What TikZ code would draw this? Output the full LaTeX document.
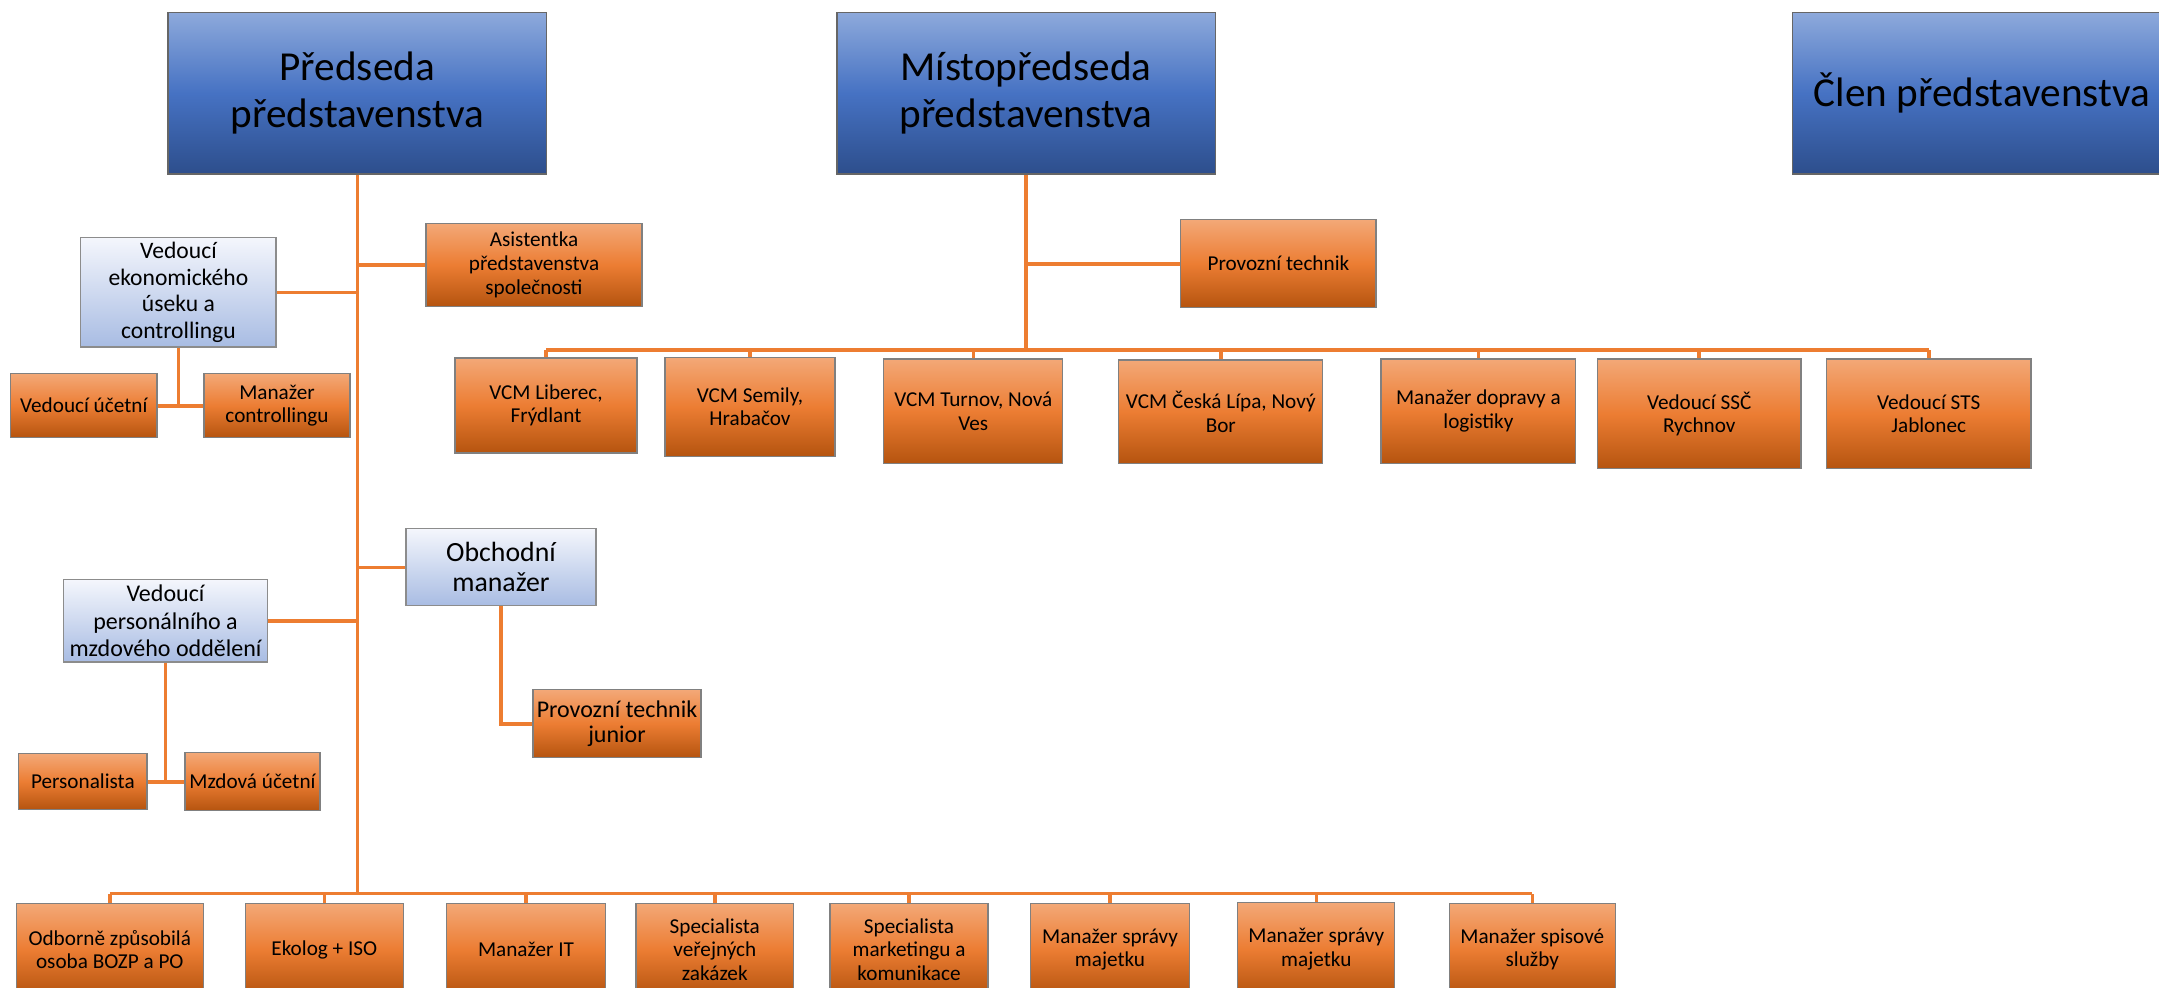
\documentclass[tikz,border=0pt]{standalone}
\usepackage{fontspec}
\setmainfont{Carlito}
\definecolor{orTop}{HTML}{F3A877}
\definecolor{orMid}{HTML}{EC7D33}
\definecolor{orBot}{HTML}{B5540F}
\definecolor{dbTop}{HTML}{8DA9DB}
\definecolor{dbMid}{HTML}{4672C3}
\definecolor{dbBot}{HTML}{2D4E8C}
\definecolor{lbTop}{HTML}{F4F6FC}
\definecolor{lbBot}{HTML}{A8BCE3}
\definecolor{lineOr}{HTML}{ED7D31}

\begin{document}
\begin{tikzpicture}[x=0.5pt,y=0.5pt,yscale=-1,xscale=1,
	conn/.style={draw=lineOr, line width=1.8pt},
	topbox/.style={draw=black!60, line width=0.7pt, top color=dbTop, bottom color=dbBot, middle color=dbMid,
		inner sep=0pt, align=center, minimum width=189.2pt, minimum height=80.6pt,
		font=\fontsize{20.6}{23.4}\selectfont},
	midbox/.style={draw=black!45, line width=0.6pt, top color=lbTop, bottom color=lbBot,
		inner sep=0pt, align=center, font=\fontsize{11.8}{13.3}\selectfont},
	orbox/.style={draw=black!50, line width=0.6pt, top color=orTop, bottom color=orBot, middle color=orMid,
		inner sep=0pt, align=center, font=\fontsize{10.6}{11.8}\selectfont},
	lowbox/.style={orbox, minimum height=46pt}]
	\useasboundingbox (0,0) rectangle (2159,987);
	\clip (0,0) rectangle (2159,987);
	
	%Shape: Rectangle -- board
	\node[topbox] (pred) at (357.3,93.3) {Předseda\\představenstva};
	\node[topbox] (mist) at (1026,93.3) {Místopředseda\\představenstva};
	\node[topbox] (clen) at (1981.8,93.3) {Člen představenstva};
	
	%Shape: Rectangle -- left branch
	\node[orbox, minimum width=108pt, minimum height=41.2pt] (asist) at (534,264.9) {Asistentka\\představenstva\\společnosti};
	\node[midbox, minimum width=97.6pt, minimum height=54.7pt] (ekon) at (178.4,292.3) {Vedoucí\\ekonomického\\úseku a\\controllingu};
	\node[orbox, minimum width=73.2pt, minimum height=32pt] (ucetni) at (83.8,405.7) {Vedoucí účetní};
	\node[orbox, minimum width=73pt, minimum height=32pt] (contr) at (277,405.7) {Manažer\\controllingu};
	\node[midbox, minimum width=95pt, minimum height=38.5pt, font=\fontsize{13.9}{15}\selectfont] (obch) at (501,567.3) {Obchodní\\manažer};
	\node[midbox, minimum width=101.8pt, minimum height=41.1pt, font=\fontsize{12}{13.7}\selectfont] (persved) at (165.5,620.9) {Vedoucí\\personálního a\\mzdového oddělení};
	\node[orbox, minimum width=84pt, minimum height=33.9pt, font=\fontsize{12}{12.9}\selectfont] (junior) at (617,723.7) {Provozní technik\\junior};
	\node[orbox, minimum width=64.1pt, minimum height=27.9pt] (personalista) at (82.9,781.7) {Personalista};
	\node[orbox, minimum width=67.5pt, minimum height=29pt] (mzdova) at (252.5,781.7) {Mzdová účetní};
	
	%Shape: Rectangle -- right branch
	\node[orbox, minimum width=97.6pt, minimum height=44pt] (provtech) at (1278.4,263.7) {Provozní technik};
	\node[orbox, minimum width=91pt, minimum height=47.5pt] (vcmlib) at (546,405.5) {VCM Liberec,\\Frýdlant};
	\node[orbox, minimum width=85pt, minimum height=49.2pt] (vcmsem) at (750,406.9) {VCM Semily,\\Hrabačov};
	\node[orbox, minimum width=89.5pt, minimum height=52.2pt] (vcmtur) at (973.3,411.2) {VCM Turnov, Nová\\Ves};
	\node[orbox, minimum width=102pt, minimum height=51.7pt] (vcmcl) at (1220.8,411.7) {VCM Česká Lípa, Nový\\Bor};
	\node[orbox, minimum width=97.4pt, minimum height=52.2pt] (doprava) at (1478.4,411.2) {Manažer dopravy a\\logistiky};
	\node[orbox, minimum width=101.7pt, minimum height=54.9pt] (ssc) at (1699.2,413.9) {Vedoucí SSČ\\Rychnov};
	\node[orbox, minimum width=102.3pt, minimum height=54.9pt] (sts) at (1928.7,413.9) {Vedoucí STS\\Jablonec};
	
	%Shape: Rectangle -- bottom row
	\node[lowbox, minimum width=93.3pt] (bozp) at (109.8,949.5) {Odborně způsobilá\\osoba BOZP a PO};
	\node[lowbox, minimum width=78.8pt] (ekolog) at (324.3,949.5) {Ekolog + ISO};
	\node[lowbox, minimum width=79.4pt] (it) at (526,949.5) {Manažer IT};
	\node[lowbox, minimum width=78.8pt] (verej) at (714.8,949.5) {Specialista\\veřejných\\zakázek};
	\node[lowbox, minimum width=79pt] (market) at (909,949.5) {Specialista\\marketingu a\\komunikace};
	\node[lowbox, minimum width=79.3pt] (sprava1) at (1110,949.5) {Manažer správy\\majetku};
	\node[lowbox, minimum width=78.5pt] (sprava2) at (1316.3,948.8) {Manažer správy\\majetku};
	\node[lowbox, minimum width=82.8pt] (spis) at (1532.3,949.5) {Manažer spisové\\služby};
	
	\coordinate (bbus) at (357.3,893.5);
	\coordinate (tbus) at (1026,350);
	
	%Straight Lines -- Předseda
	\draw[conn] (pred.south) -- (bbus);
	\draw[conn] (pred.south |- asist.west) -- (asist.west);
	\draw[conn] (ekon.east) -- (ekon.east -| pred.south);
	\draw[conn] (obch.west -| pred.south) -- (obch.west);
	\draw[conn] (persved.east) -- (persved.east -| pred.south);
	\draw[conn] (ucetni.east) -- (contr.west);
	\draw[conn] (ekon.south) -- (ekon.south |- contr.west);
	\draw[conn] (personalista.east) -- (mzdova.west);
	\draw[conn] (persved.south) -- (persved.south |- mzdova.west);
	\draw[conn] (obch.south) |- (junior.west);
	\draw[conn] (bozp.north |- bbus) -- (spis.north |- bbus);
	\foreach \n in {bozp,ekolog,it,verej,market,sprava1,sprava2,spis}
		\draw[conn] (\n.north) -- (\n.north |- bbus);
	
	%Straight Lines -- Místopředseda
	\draw[conn] (mist.south) -- (tbus);
	\draw[conn] (mist.south |- provtech.west) -- (provtech.west);
	\draw[conn] (vcmlib.north |- tbus) -- (sts.north |- tbus);
	\foreach \n in {vcmlib,vcmsem,vcmtur,vcmcl,doprava,ssc,sts}
		\draw[conn] (\n.north) -- (\n.north |- tbus);
	
\end{tikzpicture}
\end{document}
